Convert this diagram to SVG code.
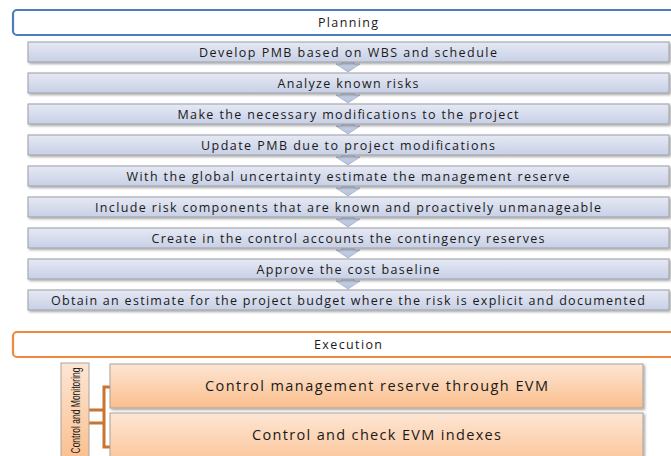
<svg xmlns="http://www.w3.org/2000/svg" width="671" height="456" viewBox="0 0 671 456">
<defs>
<linearGradient id="gStep" x1="0" y1="0" x2="0" y2="1">
<stop offset="0" stop-color="#E6E9F4"/>
<stop offset="1" stop-color="#C8D0E6"/>
</linearGradient>
<linearGradient id="gArrow" x1="0" y1="0" x2="0" y2="1">
<stop offset="0" stop-color="#D2D9EA"/>
<stop offset="1" stop-color="#B3C0DC"/>
</linearGradient>
<linearGradient id="gOrange" x1="0" y1="0" x2="0" y2="1">
<stop offset="0" stop-color="#FDE6D4"/>
<stop offset="1" stop-color="#FBBE8C"/>
</linearGradient>
<filter id="sh" x="-5%" y="-20%" width="110%" height="150%">
<feDropShadow dx="1.5" dy="1.5" stdDeviation="0.8" flood-color="#000" flood-opacity="0.35"/>
</filter>
</defs>
<style>
.t{font-family:"Open Sans","Liberation Sans",sans-serif;font-size:12.5px;fill:#1a1a1a;text-anchor:middle}
.big{font-size:14.5px}
.step{fill:url(#gStep);stroke:#9C9EA6;stroke-width:1;filter:url(#sh)}
.arr{fill:url(#gArrow);stroke:#9FA9C0;stroke-width:0.7}
.org{fill:url(#gOrange);stroke:#A9A39E;stroke-width:1;filter:url(#sh)}
.br{fill:none;stroke:#C97431;stroke-width:3}
</style>
<rect width="671" height="456" fill="#fff"/>

<g id="planning">
<rect x="13" y="10" width="680" height="25" rx="4" fill="#fff" stroke="#4F7DBA" stroke-width="2.2"/>
<text class="t" x="348" y="27" textLength="60" lengthAdjust="spacing">Planning</text>
</g>

<g id="connectors">
<path class="arr" d="M342 60 H354 V64 H360 L348 72 L336 64 H342 Z"/>
<path class="arr" d="M342 91 H354 V95 H360 L348 103 L336 95 H342 Z"/>
<path class="arr" d="M342 122 H354 V126 H360 L348 134 L336 126 H342 Z"/>
<path class="arr" d="M342 153 H354 V157 H360 L348 165 L336 157 H342 Z"/>
<path class="arr" d="M342 184 H354 V188 H360 L348 196 L336 188 H342 Z"/>
<path class="arr" d="M342 215 H354 V219 H360 L348 227 L336 219 H342 Z"/>
<path class="arr" d="M342 246 H354 V250 H360 L348 258 L336 250 H342 Z"/>
<path class="arr" d="M342 277 H354 V281 H360 L348 289 L336 281 H342 Z"/>
<path class="br" d="M89 410 H104 M89 423 H104 M111 387 H104 V447 H111"/>
</g>

<g id="step1"><rect class="step" x="28" y="42" width="641" height="20"/>
<text class="t" x="348" y="57" textLength="298" lengthAdjust="spacing">Develop PMB based on WBS and schedule</text></g>
<g id="step2"><rect class="step" x="28" y="73" width="641" height="20"/>
<text class="t" x="348" y="88" textLength="141" lengthAdjust="spacing">Analyze known risks</text></g>
<g id="step3"><rect class="step" x="28" y="104" width="641" height="20"/>
<text class="t" x="348" y="119" textLength="341" lengthAdjust="spacing">Make the necessary modifications to the project</text></g>
<g id="step4"><rect class="step" x="28" y="135" width="641" height="20"/>
<text class="t" x="348" y="150" textLength="294" lengthAdjust="spacing">Update PMB due to project modifications</text></g>
<g id="step5"><rect class="step" x="28" y="166" width="641" height="20"/>
<text class="t" x="348" y="181" textLength="443" lengthAdjust="spacing">With the global uncertainty estimate the management reserve</text></g>
<g id="step6"><rect class="step" x="28" y="197" width="641" height="20"/>
<text class="t" x="348" y="212" textLength="506" lengthAdjust="spacing">Include risk components that are known and proactively unmanageable</text></g>
<g id="step7"><rect class="step" x="28" y="228" width="641" height="20"/>
<text class="t" x="348" y="243" textLength="393" lengthAdjust="spacing">Create in the control accounts the contingency reserves</text></g>
<g id="step8"><rect class="step" x="28" y="259" width="641" height="20"/>
<text class="t" x="348" y="274" textLength="183" lengthAdjust="spacing">Approve the cost baseline</text></g>
<g id="step9"><rect class="step" x="28" y="290" width="641" height="20"/>
<text class="t" x="348" y="305" textLength="594" lengthAdjust="spacing">Obtain an estimate for the project budget where the risk is explicit and documented</text></g>

<g id="execution">
<rect x="13" y="332" width="680" height="25" rx="4" fill="#fff" stroke="#EE8A3E" stroke-width="2.2"/>
<text class="t" x="348" y="349" textLength="68" lengthAdjust="spacing">Execution</text>
</g>

<g id="control-monitoring">
<rect x="61" y="363" width="28" height="100" fill="url(#gOrange)" stroke="#A9A39E" stroke-width="1"/>
<text class="t" transform="translate(79.5 410.5) rotate(-90)" style="font-family:'Liberation Sans Narrow','Liberation Sans',sans-serif;font-size:12.5px" textLength="86" lengthAdjust="spacingAndGlyphs">Control and Monitoring</text>
</g>

<g id="evm-reserve"><rect class="org" x="110" y="364" width="533" height="44"/>
<text class="t big" x="376.5" y="390.5" textLength="343" lengthAdjust="spacing">Control management reserve through EVM</text></g>
<g id="evm-indexes"><rect class="org" x="110" y="413" width="533" height="60"/>
<text class="t big" x="376.5" y="439.5" textLength="249" lengthAdjust="spacing">Control and check EVM indexes</text></g>
</svg>
